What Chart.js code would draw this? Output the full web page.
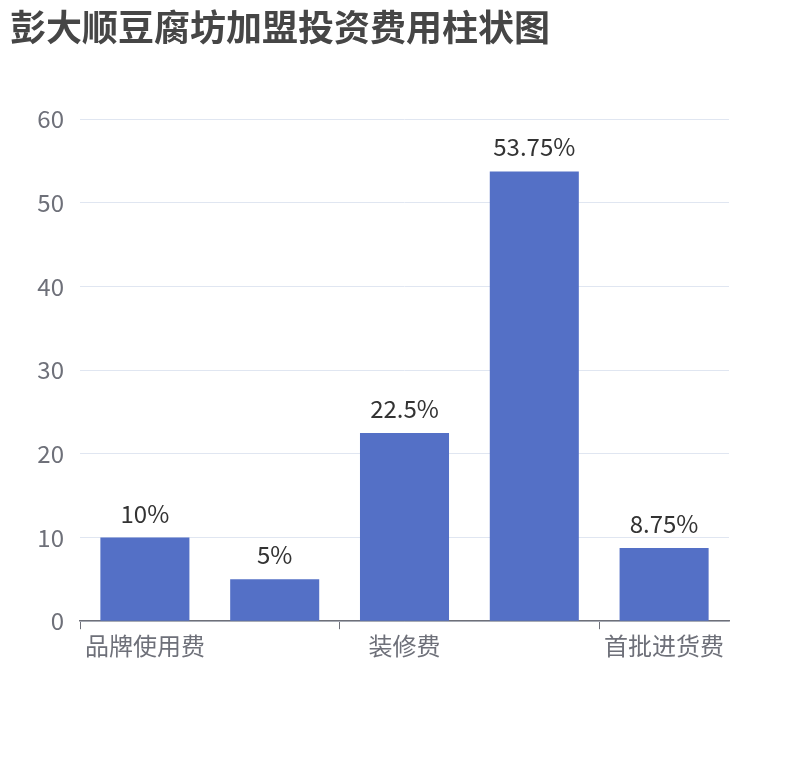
<!DOCTYPE html>
<html>
<head>
<meta charset="utf-8">
<script src="https://cdn.jsdelivr.net/npm/chart.js@4"></script>
<style>
  body { margin: 0; background: #fff; }
  #wrap { width: 810px; height: 760px; }
</style>
</head>
<body>
<div id="wrap"><canvas id="myChart" width="810" height="760"></canvas></div>
<script>
// data
let categories = ['品牌使用费', '保证金', '装修费', '设备费', '首批进货费'];
let values = [10, 5, 22.5, 53.75, 8.75];
let yTicks = [0, 10, 20, 30, 40, 50, 60];

let font = '"Noto Sans CJK SC", "Noto Sans", sans-serif';

// draw the % labels above each bar
let barLabels = {
  id: 'barLabels',
  afterDatasetsDraw(chart) {
    let ctx = chart.ctx;
    let meta = chart.getDatasetMeta(0);
    ctx.save();
    ctx.font = '24px ' + font;
    ctx.fillStyle = '#333';
    ctx.textAlign = 'center';
    ctx.textBaseline = 'alphabetic';
    meta.data.forEach((bar, i) => {
      ctx.fillText(values[i] + '%', bar.x, bar.y - 15);
    });
    ctx.restore();
  }
};

let ctx = document.getElementById('myChart').getContext('2d');

new Chart(ctx, {
  type: 'bar',
  data: {
    labels: categories,
    datasets: [{
      data: values,
      backgroundColor: '#5470c6',
      categoryPercentage: 1,
      barPercentage: 0.686
    }]
  },
  options: {
    responsive: false,
    animation: false,
    layout: { padding: { left: 10, right: 81, top: 6, bottom: 98 } },
    plugins: {
      legend: { display: false },
      tooltip: { enabled: false },
      title: {
        display: true,
        text: '彭大顺豆腐坊加盟投资费用柱状图',
        align: 'start',
        color: '#464646',
        font: { family: font, size: 36, weight: 'bold' },
        padding: { top: 0, bottom: 70 }
      }
    },
    scales: {
      x: {
        grid: {
          offset: true,
          drawOnChartArea: false,
          tickLength: 8,
          tickColor: (c) => (c.index % 2 === 0 || c.index === categories.length) ? '#6e7079' : 'rgba(0,0,0,0)'
        },
        border: { color: '#6e7079', width: 1.5 },
        ticks: {
          autoSkip: false,
          maxRotation: 0,
          color: '#6e7079',
          font: { family: font, size: 24 },
          padding: 2,
          callback: function (v, i) { return i % 2 === 0 ? categories[i] : ''; }
        }
      },
      y: {
        min: 0,
        max: 60,
        afterBuildTicks: (axis) => { axis.ticks = yTicks.map(v => ({ value: v })); },
        afterFit: (axis) => { axis.width = 70; },
        grid: { color: '#e0e6f1', drawTicks: false },
        border: { display: false },
        ticks: {
          color: '#6e7079',
          font: { family: font, size: 24 },
          padding: 16
        }
      }
    }
  },
  plugins: [barLabels]
});
</script>
</body>
</html>
